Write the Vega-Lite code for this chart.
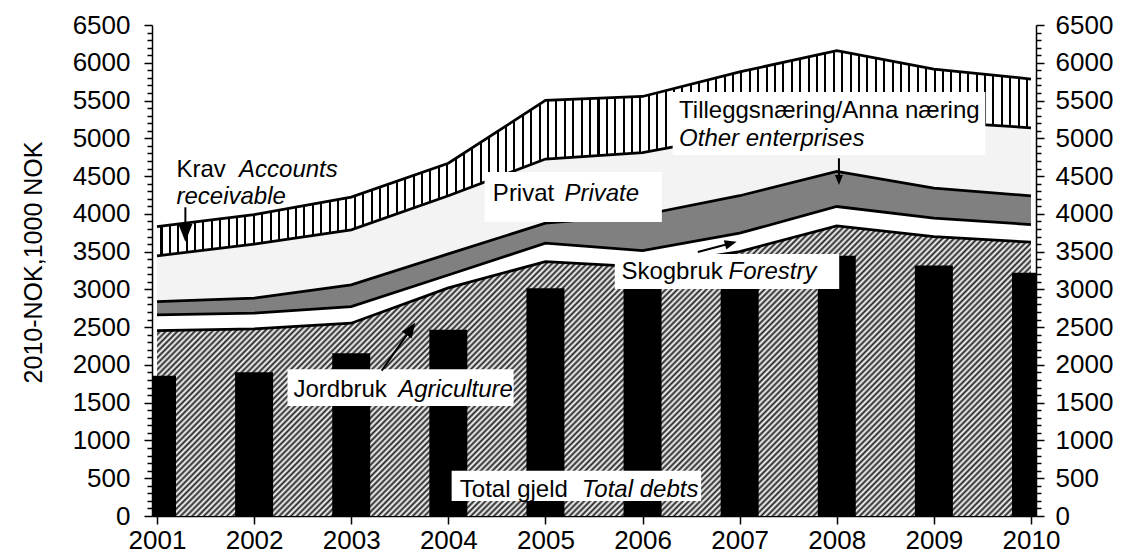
{
"$schema":"https://vega.github.io/schema/vega-lite/v6.json",
"width":884,"height":491,
"autosize":{"type":"none"},
"padding":{"left":152,"top":25,"right":87,"bottom":44},
"background":"white",
"config":{"view":{"stroke":null},"axis":{"grid":false,"zindex":1,"domainColor":"black","domainWidth":1.5,"tickColor":"black","tickWidth":1.5,"labelColor":"black","labelFont":"Liberation Sans","labelFontSize":26,"titleFont":"Liberation Sans","titleColor":"black","titleFontWeight":"normal","labelOverlap":false,"labelFlush":false}},
"datasets":{"assets":[
{"year":2001,"Agriculture":2455,"Forestry":207,"Other":177,"Private":605,"Receivable":388,"debts":1858},
{"year":2002,"Agriculture":2477,"Forestry":208,"Other":198,"Private":717,"Receivable":390,"debts":1903},
{"year":2003,"Agriculture":2552,"Forestry":220,"Other":288,"Private":728,"Receivable":433,"debts":2155},
{"year":2004,"Agriculture":3020,"Forestry":170,"Other":280,"Private":770,"Receivable":430,"debts":2464},
{"year":2005,"Agriculture":3368,"Forestry":244,"Other":265,"Private":848,"Receivable":776,"debts":3016},
{"year":2006,"Agriculture":3298,"Forestry":216,"Other":471,"Private":827,"Receivable":742,"debts":3020},
{"year":2007,"Agriculture":3500,"Forestry":244,"Other":496,"Private":810,"Receivable":830,"debts":3040},
{"year":2008,"Agriculture":3841,"Forestry":256,"Other":464,"Private":739,"Receivable":859,"debts":3444},
{"year":2009,"Agriculture":3700,"Forestry":243,"Other":397,"Private":880,"Receivable":697,"debts":3315},
{"year":2010,"Agriculture":3625,"Forestry":233,"Other":380,"Private":901,"Receivable":646,"debts":3220}
]},
"resolve":{"axis":{"x":"independent","y":"independent"}},
"layer":[
  {"data":{"name":"assets"},
   "transform":[{"fold":["Agriculture","Forestry","Other","Private","Receivable"]},{"stack":"value","groupby":["year"],"sort":[{"field":"key","order":"ascending"}],"as":["lo","hi"]},{"filter":"datum.key === 'Agriculture'"}],
   "mark":{"type":"area","opacity":1,"fill":{"gradient":"linear","x1":0,"y1":0,"x2":1.199,"y2":0.3935,"stops":[
{"offset":0,"color":"#fff"},{"offset":0.0025,"color":"#222"},{"offset":0.005,"color":"#fff"},{"offset":0.0075,"color":"#222"},
{"offset":0.01,"color":"#fff"},{"offset":0.0125,"color":"#222"},{"offset":0.015,"color":"#fff"},{"offset":0.0175,"color":"#222"},
{"offset":0.02,"color":"#fff"},{"offset":0.0225,"color":"#222"},{"offset":0.025,"color":"#fff"},{"offset":0.0275,"color":"#222"},
{"offset":0.03,"color":"#fff"},{"offset":0.0325,"color":"#222"},{"offset":0.035,"color":"#fff"},{"offset":0.0375,"color":"#222"},
{"offset":0.04,"color":"#fff"},{"offset":0.0425,"color":"#222"},{"offset":0.045,"color":"#fff"},{"offset":0.0475,"color":"#222"},
{"offset":0.05,"color":"#fff"},{"offset":0.0525,"color":"#222"},{"offset":0.055,"color":"#fff"},{"offset":0.0575,"color":"#222"},
{"offset":0.06,"color":"#fff"},{"offset":0.0625,"color":"#222"},{"offset":0.065,"color":"#fff"},{"offset":0.0675,"color":"#222"},
{"offset":0.07,"color":"#fff"},{"offset":0.0725,"color":"#222"},{"offset":0.075,"color":"#fff"},{"offset":0.0775,"color":"#222"},
{"offset":0.08,"color":"#fff"},{"offset":0.0825,"color":"#222"},{"offset":0.085,"color":"#fff"},{"offset":0.0875,"color":"#222"},
{"offset":0.09,"color":"#fff"},{"offset":0.0925,"color":"#222"},{"offset":0.095,"color":"#fff"},{"offset":0.0975,"color":"#222"},
{"offset":0.1,"color":"#fff"},{"offset":0.1025,"color":"#222"},{"offset":0.105,"color":"#fff"},{"offset":0.1075,"color":"#222"},
{"offset":0.11,"color":"#fff"},{"offset":0.1125,"color":"#222"},{"offset":0.115,"color":"#fff"},{"offset":0.1175,"color":"#222"},
{"offset":0.12,"color":"#fff"},{"offset":0.1225,"color":"#222"},{"offset":0.125,"color":"#fff"},{"offset":0.1275,"color":"#222"},
{"offset":0.13,"color":"#fff"},{"offset":0.1325,"color":"#222"},{"offset":0.135,"color":"#fff"},{"offset":0.1375,"color":"#222"},
{"offset":0.14,"color":"#fff"},{"offset":0.1425,"color":"#222"},{"offset":0.145,"color":"#fff"},{"offset":0.1475,"color":"#222"},
{"offset":0.15,"color":"#fff"},{"offset":0.1525,"color":"#222"},{"offset":0.155,"color":"#fff"},{"offset":0.1575,"color":"#222"},
{"offset":0.16,"color":"#fff"},{"offset":0.1625,"color":"#222"},{"offset":0.165,"color":"#fff"},{"offset":0.1675,"color":"#222"},
{"offset":0.17,"color":"#fff"},{"offset":0.1725,"color":"#222"},{"offset":0.175,"color":"#fff"},{"offset":0.1775,"color":"#222"},
{"offset":0.18,"color":"#fff"},{"offset":0.1825,"color":"#222"},{"offset":0.185,"color":"#fff"},{"offset":0.1875,"color":"#222"},
{"offset":0.19,"color":"#fff"},{"offset":0.1925,"color":"#222"},{"offset":0.195,"color":"#fff"},{"offset":0.1975,"color":"#222"},
{"offset":0.2,"color":"#fff"},{"offset":0.2025,"color":"#222"},{"offset":0.205,"color":"#fff"},{"offset":0.2075,"color":"#222"},
{"offset":0.21,"color":"#fff"},{"offset":0.2125,"color":"#222"},{"offset":0.215,"color":"#fff"},{"offset":0.2175,"color":"#222"},
{"offset":0.22,"color":"#fff"},{"offset":0.2225,"color":"#222"},{"offset":0.225,"color":"#fff"},{"offset":0.2275,"color":"#222"},
{"offset":0.23,"color":"#fff"},{"offset":0.2325,"color":"#222"},{"offset":0.235,"color":"#fff"},{"offset":0.2375,"color":"#222"},
{"offset":0.24,"color":"#fff"},{"offset":0.2425,"color":"#222"},{"offset":0.245,"color":"#fff"},{"offset":0.2475,"color":"#222"},
{"offset":0.25,"color":"#fff"},{"offset":0.2525,"color":"#222"},{"offset":0.255,"color":"#fff"},{"offset":0.2575,"color":"#222"},
{"offset":0.26,"color":"#fff"},{"offset":0.2625,"color":"#222"},{"offset":0.265,"color":"#fff"},{"offset":0.2675,"color":"#222"},
{"offset":0.27,"color":"#fff"},{"offset":0.2725,"color":"#222"},{"offset":0.275,"color":"#fff"},{"offset":0.2775,"color":"#222"},
{"offset":0.28,"color":"#fff"},{"offset":0.2825,"color":"#222"},{"offset":0.285,"color":"#fff"},{"offset":0.2875,"color":"#222"},
{"offset":0.29,"color":"#fff"},{"offset":0.2925,"color":"#222"},{"offset":0.295,"color":"#fff"},{"offset":0.2975,"color":"#222"},
{"offset":0.3,"color":"#fff"},{"offset":0.3025,"color":"#222"},{"offset":0.305,"color":"#fff"},{"offset":0.3075,"color":"#222"},
{"offset":0.31,"color":"#fff"},{"offset":0.3125,"color":"#222"},{"offset":0.315,"color":"#fff"},{"offset":0.3175,"color":"#222"},
{"offset":0.32,"color":"#fff"},{"offset":0.3225,"color":"#222"},{"offset":0.325,"color":"#fff"},{"offset":0.3275,"color":"#222"},
{"offset":0.33,"color":"#fff"},{"offset":0.3325,"color":"#222"},{"offset":0.335,"color":"#fff"},{"offset":0.3375,"color":"#222"},
{"offset":0.34,"color":"#fff"},{"offset":0.3425,"color":"#222"},{"offset":0.345,"color":"#fff"},{"offset":0.3475,"color":"#222"},
{"offset":0.35,"color":"#fff"},{"offset":0.3525,"color":"#222"},{"offset":0.355,"color":"#fff"},{"offset":0.3575,"color":"#222"},
{"offset":0.36,"color":"#fff"},{"offset":0.3625,"color":"#222"},{"offset":0.365,"color":"#fff"},{"offset":0.3675,"color":"#222"},
{"offset":0.37,"color":"#fff"},{"offset":0.3725,"color":"#222"},{"offset":0.375,"color":"#fff"},{"offset":0.3775,"color":"#222"},
{"offset":0.38,"color":"#fff"},{"offset":0.3825,"color":"#222"},{"offset":0.385,"color":"#fff"},{"offset":0.3875,"color":"#222"},
{"offset":0.39,"color":"#fff"},{"offset":0.3925,"color":"#222"},{"offset":0.395,"color":"#fff"},{"offset":0.3975,"color":"#222"},
{"offset":0.4,"color":"#fff"},{"offset":0.4025,"color":"#222"},{"offset":0.405,"color":"#fff"},{"offset":0.4075,"color":"#222"},
{"offset":0.41,"color":"#fff"},{"offset":0.4125,"color":"#222"},{"offset":0.415,"color":"#fff"},{"offset":0.4175,"color":"#222"},
{"offset":0.42,"color":"#fff"},{"offset":0.4225,"color":"#222"},{"offset":0.425,"color":"#fff"},{"offset":0.4275,"color":"#222"},
{"offset":0.43,"color":"#fff"},{"offset":0.4325,"color":"#222"},{"offset":0.435,"color":"#fff"},{"offset":0.4375,"color":"#222"},
{"offset":0.44,"color":"#fff"},{"offset":0.4425,"color":"#222"},{"offset":0.445,"color":"#fff"},{"offset":0.4475,"color":"#222"},
{"offset":0.45,"color":"#fff"},{"offset":0.4525,"color":"#222"},{"offset":0.455,"color":"#fff"},{"offset":0.4575,"color":"#222"},
{"offset":0.46,"color":"#fff"},{"offset":0.4625,"color":"#222"},{"offset":0.465,"color":"#fff"},{"offset":0.4675,"color":"#222"},
{"offset":0.47,"color":"#fff"},{"offset":0.4725,"color":"#222"},{"offset":0.475,"color":"#fff"},{"offset":0.4775,"color":"#222"},
{"offset":0.48,"color":"#fff"},{"offset":0.4825,"color":"#222"},{"offset":0.485,"color":"#fff"},{"offset":0.4875,"color":"#222"},
{"offset":0.49,"color":"#fff"},{"offset":0.4925,"color":"#222"},{"offset":0.495,"color":"#fff"},{"offset":0.4975,"color":"#222"},
{"offset":0.5,"color":"#fff"},{"offset":0.5025,"color":"#222"},{"offset":0.505,"color":"#fff"},{"offset":0.5075,"color":"#222"},
{"offset":0.51,"color":"#fff"},{"offset":0.5125,"color":"#222"},{"offset":0.515,"color":"#fff"},{"offset":0.5175,"color":"#222"},
{"offset":0.52,"color":"#fff"},{"offset":0.5225,"color":"#222"},{"offset":0.525,"color":"#fff"},{"offset":0.5275,"color":"#222"},
{"offset":0.53,"color":"#fff"},{"offset":0.5325,"color":"#222"},{"offset":0.535,"color":"#fff"},{"offset":0.5375,"color":"#222"},
{"offset":0.54,"color":"#fff"},{"offset":0.5425,"color":"#222"},{"offset":0.545,"color":"#fff"},{"offset":0.5475,"color":"#222"},
{"offset":0.55,"color":"#fff"},{"offset":0.5525,"color":"#222"},{"offset":0.555,"color":"#fff"},{"offset":0.5575,"color":"#222"},
{"offset":0.56,"color":"#fff"},{"offset":0.5625,"color":"#222"},{"offset":0.565,"color":"#fff"},{"offset":0.5675,"color":"#222"},
{"offset":0.57,"color":"#fff"},{"offset":0.5725,"color":"#222"},{"offset":0.575,"color":"#fff"},{"offset":0.5775,"color":"#222"},
{"offset":0.58,"color":"#fff"},{"offset":0.5825,"color":"#222"},{"offset":0.585,"color":"#fff"},{"offset":0.5875,"color":"#222"},
{"offset":0.59,"color":"#fff"},{"offset":0.5925,"color":"#222"},{"offset":0.595,"color":"#fff"},{"offset":0.5975,"color":"#222"},
{"offset":0.6,"color":"#fff"},{"offset":0.6025,"color":"#222"},{"offset":0.605,"color":"#fff"},{"offset":0.6075,"color":"#222"},
{"offset":0.61,"color":"#fff"},{"offset":0.6125,"color":"#222"},{"offset":0.615,"color":"#fff"},{"offset":0.6175,"color":"#222"},
{"offset":0.62,"color":"#fff"},{"offset":0.6225,"color":"#222"},{"offset":0.625,"color":"#fff"},{"offset":0.6275,"color":"#222"},
{"offset":0.63,"color":"#fff"},{"offset":0.6325,"color":"#222"},{"offset":0.635,"color":"#fff"},{"offset":0.6375,"color":"#222"},
{"offset":0.64,"color":"#fff"},{"offset":0.6425,"color":"#222"},{"offset":0.645,"color":"#fff"},{"offset":0.6475,"color":"#222"},
{"offset":0.65,"color":"#fff"},{"offset":0.6525,"color":"#222"},{"offset":0.655,"color":"#fff"},{"offset":0.6575,"color":"#222"},
{"offset":0.66,"color":"#fff"},{"offset":0.6625,"color":"#222"},{"offset":0.665,"color":"#fff"},{"offset":0.6675,"color":"#222"},
{"offset":0.67,"color":"#fff"},{"offset":0.6725,"color":"#222"},{"offset":0.675,"color":"#fff"},{"offset":0.6775,"color":"#222"},
{"offset":0.68,"color":"#fff"},{"offset":0.6825,"color":"#222"},{"offset":0.685,"color":"#fff"},{"offset":0.6875,"color":"#222"},
{"offset":0.69,"color":"#fff"},{"offset":0.6925,"color":"#222"},{"offset":0.695,"color":"#fff"},{"offset":0.6975,"color":"#222"},
{"offset":0.7,"color":"#fff"},{"offset":0.7025,"color":"#222"},{"offset":0.705,"color":"#fff"},{"offset":0.7075,"color":"#222"},
{"offset":0.71,"color":"#fff"},{"offset":0.7125,"color":"#222"},{"offset":0.715,"color":"#fff"},{"offset":0.7175,"color":"#222"},
{"offset":0.72,"color":"#fff"},{"offset":0.7225,"color":"#222"},{"offset":0.725,"color":"#fff"},{"offset":0.7275,"color":"#222"},
{"offset":0.73,"color":"#fff"},{"offset":0.7325,"color":"#222"},{"offset":0.735,"color":"#fff"},{"offset":0.7375,"color":"#222"},
{"offset":0.74,"color":"#fff"},{"offset":0.7425,"color":"#222"},{"offset":0.745,"color":"#fff"},{"offset":0.7475,"color":"#222"},
{"offset":0.75,"color":"#fff"},{"offset":0.7525,"color":"#222"},{"offset":0.755,"color":"#fff"},{"offset":0.7575,"color":"#222"},
{"offset":0.76,"color":"#fff"},{"offset":0.7625,"color":"#222"},{"offset":0.765,"color":"#fff"},{"offset":0.7675,"color":"#222"},
{"offset":0.77,"color":"#fff"},{"offset":0.7725,"color":"#222"},{"offset":0.775,"color":"#fff"},{"offset":0.7775,"color":"#222"},
{"offset":0.78,"color":"#fff"},{"offset":0.7825,"color":"#222"},{"offset":0.785,"color":"#fff"},{"offset":0.7875,"color":"#222"},
{"offset":0.79,"color":"#fff"},{"offset":0.7925,"color":"#222"},{"offset":0.795,"color":"#fff"},{"offset":0.7975,"color":"#222"},
{"offset":0.8,"color":"#fff"},{"offset":0.8025,"color":"#222"},{"offset":0.805,"color":"#fff"},{"offset":0.8075,"color":"#222"},
{"offset":0.81,"color":"#fff"},{"offset":0.8125,"color":"#222"},{"offset":0.815,"color":"#fff"},{"offset":0.8175,"color":"#222"},
{"offset":0.82,"color":"#fff"},{"offset":0.8225,"color":"#222"},{"offset":0.825,"color":"#fff"},{"offset":0.8275,"color":"#222"},
{"offset":0.83,"color":"#fff"},{"offset":0.8325,"color":"#222"},{"offset":0.835,"color":"#fff"},{"offset":0.8375,"color":"#222"},
{"offset":0.84,"color":"#fff"},{"offset":0.8425,"color":"#222"},{"offset":0.845,"color":"#fff"},{"offset":0.8475,"color":"#222"},
{"offset":0.85,"color":"#fff"},{"offset":0.8525,"color":"#222"},{"offset":0.855,"color":"#fff"},{"offset":0.8575,"color":"#222"},
{"offset":0.86,"color":"#fff"},{"offset":0.8625,"color":"#222"},{"offset":0.865,"color":"#fff"},{"offset":0.8675,"color":"#222"},
{"offset":0.87,"color":"#fff"},{"offset":0.8725,"color":"#222"},{"offset":0.875,"color":"#fff"},{"offset":0.8775,"color":"#222"},
{"offset":0.88,"color":"#fff"},{"offset":0.8825,"color":"#222"},{"offset":0.885,"color":"#fff"},{"offset":0.8875,"color":"#222"},
{"offset":0.89,"color":"#fff"},{"offset":0.8925,"color":"#222"},{"offset":0.895,"color":"#fff"},{"offset":0.8975,"color":"#222"},
{"offset":0.9,"color":"#fff"},{"offset":0.9025,"color":"#222"},{"offset":0.905,"color":"#fff"},{"offset":0.9075,"color":"#222"},
{"offset":0.91,"color":"#fff"},{"offset":0.9125,"color":"#222"},{"offset":0.915,"color":"#fff"},{"offset":0.9175,"color":"#222"},
{"offset":0.92,"color":"#fff"},{"offset":0.9225,"color":"#222"},{"offset":0.925,"color":"#fff"},{"offset":0.9275,"color":"#222"},
{"offset":0.93,"color":"#fff"},{"offset":0.9325,"color":"#222"},{"offset":0.935,"color":"#fff"},{"offset":0.9375,"color":"#222"},
{"offset":0.94,"color":"#fff"},{"offset":0.9425,"color":"#222"},{"offset":0.945,"color":"#fff"},{"offset":0.9475,"color":"#222"},
{"offset":0.95,"color":"#fff"},{"offset":0.9525,"color":"#222"},{"offset":0.955,"color":"#fff"},{"offset":0.9575,"color":"#222"},
{"offset":0.96,"color":"#fff"},{"offset":0.9625,"color":"#222"},{"offset":0.965,"color":"#fff"},{"offset":0.9675,"color":"#222"},
{"offset":0.97,"color":"#fff"},{"offset":0.9725,"color":"#222"},{"offset":0.975,"color":"#fff"},{"offset":0.9775,"color":"#222"},
{"offset":0.98,"color":"#fff"},{"offset":0.9825,"color":"#222"},{"offset":0.985,"color":"#fff"},{"offset":0.9875,"color":"#222"},
{"offset":0.99,"color":"#fff"},{"offset":0.9925,"color":"#222"},{"offset":0.995,"color":"#fff"},{"offset":0.9975,"color":"#222"},
{"offset":1,"color":"#fff"}]}},
   "encoding":{
    "x":{"field":"year","type":"quantitative","scale":{"domain":[2001,2010],"nice":false,"zero":false},"axis":{"orient":"bottom","values":[2001,2002,2003,2004,2005,2006,2007,2008,2009,2010],"format":"d","tickSize":8,"labelPadding":3,"title":null}},
    "y":{"field":"hi","type":"quantitative","scale":{"domain":[0,6500],"nice":false},"axis":{"orient":"left","values":[0,100,200,300,400,500,600,700,800,900,1000,1100,1200,1300,1400,1500,1600,1700,1800,1900,2000,2100,2200,2300,2400,2500,2600,2700,2800,2900,3000,3100,3200,3300,3400,3500,3600,3700,3800,3900,4000,4100,4200,4300,4400,4500,4600,4700,4800,4900,5000,5100,5200,5300,5400,5500,5600,5700,5800,5900,6000,6100,6200,6300,6400,6500],"format":"d","labelExpr":"datum.value % 500 === 0 ? datum.label : ''","tickSize":{"condition":{"test":"datum.value % 500 === 0","value":8},"value":5},"labelPadding":14,"title":"2010-NOK,1000 NOK","titleFontSize":25,"titleAngle":-90,"titleX":-111,"titleY":237,"titleAlign":"center","titleBaseline":"alphabetic"}},
    "y2":{"field":"lo"}}},
  {"data":{"name":"assets"},
   "transform":[{"fold":["Agriculture","Forestry","Other","Private","Receivable"]},{"stack":"value","groupby":["year"],"sort":[{"field":"key","order":"ascending"}],"as":["lo","hi"]},{"filter":"datum.key === 'Forestry'"}],
   "mark":{"type":"area","opacity":1,"fill":"#ffffff"},
   "encoding":{"x":{"field":"year","type":"quantitative","scale":{"domain":[2001,2010],"nice":false,"zero":false},"axis":null},"y":{"field":"hi","type":"quantitative","scale":{"domain":[0,6500],"nice":false},"axis":null},"y2":{"field":"lo"}}},
  {"data":{"name":"assets"},
   "transform":[{"fold":["Agriculture","Forestry","Other","Private","Receivable"]},{"stack":"value","groupby":["year"],"sort":[{"field":"key","order":"ascending"}],"as":["lo","hi"]},{"filter":"datum.key === 'Other'"}],
   "mark":{"type":"area","opacity":1,"fill":"#808080"},
   "encoding":{"x":{"field":"year","type":"quantitative","scale":{"domain":[2001,2010],"nice":false,"zero":false},"axis":null},"y":{"field":"hi","type":"quantitative","scale":{"domain":[0,6500],"nice":false},"axis":null},"y2":{"field":"lo"}}},
  {"data":{"name":"assets"},
   "transform":[{"fold":["Agriculture","Forestry","Other","Private","Receivable"]},{"stack":"value","groupby":["year"],"sort":[{"field":"key","order":"ascending"}],"as":["lo","hi"]},{"filter":"datum.key === 'Private'"}],
   "mark":{"type":"area","opacity":1,"fill":"#f3f3f3"},
   "encoding":{"x":{"field":"year","type":"quantitative","scale":{"domain":[2001,2010],"nice":false,"zero":false},"axis":null},"y":{"field":"hi","type":"quantitative","scale":{"domain":[0,6500],"nice":false},"axis":null},"y2":{"field":"lo"}}},
  {"data":{"name":"assets"},
   "transform":[{"fold":["Agriculture","Forestry","Other","Private","Receivable"]},{"stack":"value","groupby":["year"],"sort":[{"field":"key","order":"ascending"}],"as":["lo","hi"]},{"filter":"datum.key === 'Receivable'"}],
   "mark":{"type":"area","opacity":1,"fill":{"gradient":"linear","x1":0,"y1":0,"x2":1,"y2":0,"stops":[
{"offset":0,"color":"#fff"},
{"offset":0.0039,"color":"#fff"},{"offset":0.0039,"color":"#000"},{"offset":0.0063,"color":"#000"},{"offset":0.0063,"color":"#fff"},
{"offset":0.0136,"color":"#fff"},{"offset":0.0136,"color":"#000"},{"offset":0.0159,"color":"#000"},{"offset":0.0159,"color":"#fff"},
{"offset":0.0232,"color":"#fff"},{"offset":0.0232,"color":"#000"},{"offset":0.0255,"color":"#000"},{"offset":0.0255,"color":"#fff"},
{"offset":0.0328,"color":"#fff"},{"offset":0.0328,"color":"#000"},{"offset":0.0351,"color":"#000"},{"offset":0.0351,"color":"#fff"},
{"offset":0.0424,"color":"#fff"},{"offset":0.0424,"color":"#000"},{"offset":0.0447,"color":"#000"},{"offset":0.0447,"color":"#fff"},
{"offset":0.052,"color":"#fff"},{"offset":0.052,"color":"#000"},{"offset":0.0543,"color":"#000"},{"offset":0.0543,"color":"#fff"},
{"offset":0.0616,"color":"#fff"},{"offset":0.0616,"color":"#000"},{"offset":0.0639,"color":"#000"},{"offset":0.0639,"color":"#fff"},
{"offset":0.0713,"color":"#fff"},{"offset":0.0713,"color":"#000"},{"offset":0.0736,"color":"#000"},{"offset":0.0736,"color":"#fff"},
{"offset":0.0809,"color":"#fff"},{"offset":0.0809,"color":"#000"},{"offset":0.0832,"color":"#000"},{"offset":0.0832,"color":"#fff"},
{"offset":0.0905,"color":"#fff"},{"offset":0.0905,"color":"#000"},{"offset":0.0928,"color":"#000"},{"offset":0.0928,"color":"#fff"},
{"offset":0.1001,"color":"#fff"},{"offset":0.1001,"color":"#000"},{"offset":0.1024,"color":"#000"},{"offset":0.1024,"color":"#fff"},
{"offset":0.1097,"color":"#fff"},{"offset":0.1097,"color":"#000"},{"offset":0.112,"color":"#000"},{"offset":0.112,"color":"#fff"},
{"offset":0.1193,"color":"#fff"},{"offset":0.1193,"color":"#000"},{"offset":0.1216,"color":"#000"},{"offset":0.1216,"color":"#fff"},
{"offset":0.1289,"color":"#fff"},{"offset":0.1289,"color":"#000"},{"offset":0.1313,"color":"#000"},{"offset":0.1313,"color":"#fff"},
{"offset":0.1386,"color":"#fff"},{"offset":0.1386,"color":"#000"},{"offset":0.1409,"color":"#000"},{"offset":0.1409,"color":"#fff"},
{"offset":0.1482,"color":"#fff"},{"offset":0.1482,"color":"#000"},{"offset":0.1505,"color":"#000"},{"offset":0.1505,"color":"#fff"},
{"offset":0.1578,"color":"#fff"},{"offset":0.1578,"color":"#000"},{"offset":0.1601,"color":"#000"},{"offset":0.1601,"color":"#fff"},
{"offset":0.1674,"color":"#fff"},{"offset":0.1674,"color":"#000"},{"offset":0.1697,"color":"#000"},{"offset":0.1697,"color":"#fff"},
{"offset":0.177,"color":"#fff"},{"offset":0.177,"color":"#000"},{"offset":0.1793,"color":"#000"},{"offset":0.1793,"color":"#fff"},
{"offset":0.1866,"color":"#fff"},{"offset":0.1866,"color":"#000"},{"offset":0.1889,"color":"#000"},{"offset":0.1889,"color":"#fff"},
{"offset":0.1963,"color":"#fff"},{"offset":0.1963,"color":"#000"},{"offset":0.1986,"color":"#000"},{"offset":0.1986,"color":"#fff"},
{"offset":0.2059,"color":"#fff"},{"offset":0.2059,"color":"#000"},{"offset":0.2082,"color":"#000"},{"offset":0.2082,"color":"#fff"},
{"offset":0.2155,"color":"#fff"},{"offset":0.2155,"color":"#000"},{"offset":0.2178,"color":"#000"},{"offset":0.2178,"color":"#fff"},
{"offset":0.2251,"color":"#fff"},{"offset":0.2251,"color":"#000"},{"offset":0.2274,"color":"#000"},{"offset":0.2274,"color":"#fff"},
{"offset":0.2347,"color":"#fff"},{"offset":0.2347,"color":"#000"},{"offset":0.237,"color":"#000"},{"offset":0.237,"color":"#fff"},
{"offset":0.2443,"color":"#fff"},{"offset":0.2443,"color":"#000"},{"offset":0.2466,"color":"#000"},{"offset":0.2466,"color":"#fff"},
{"offset":0.2539,"color":"#fff"},{"offset":0.2539,"color":"#000"},{"offset":0.2563,"color":"#000"},{"offset":0.2563,"color":"#fff"},
{"offset":0.2636,"color":"#fff"},{"offset":0.2636,"color":"#000"},{"offset":0.2659,"color":"#000"},{"offset":0.2659,"color":"#fff"},
{"offset":0.2732,"color":"#fff"},{"offset":0.2732,"color":"#000"},{"offset":0.2755,"color":"#000"},{"offset":0.2755,"color":"#fff"},
{"offset":0.2828,"color":"#fff"},{"offset":0.2828,"color":"#000"},{"offset":0.2851,"color":"#000"},{"offset":0.2851,"color":"#fff"},
{"offset":0.2924,"color":"#fff"},{"offset":0.2924,"color":"#000"},{"offset":0.2947,"color":"#000"},{"offset":0.2947,"color":"#fff"},
{"offset":0.302,"color":"#fff"},{"offset":0.302,"color":"#000"},{"offset":0.3043,"color":"#000"},{"offset":0.3043,"color":"#fff"},
{"offset":0.3116,"color":"#fff"},{"offset":0.3116,"color":"#000"},{"offset":0.3139,"color":"#000"},{"offset":0.3139,"color":"#fff"},
{"offset":0.3213,"color":"#fff"},{"offset":0.3213,"color":"#000"},{"offset":0.3236,"color":"#000"},{"offset":0.3236,"color":"#fff"},
{"offset":0.3309,"color":"#fff"},{"offset":0.3309,"color":"#000"},{"offset":0.3332,"color":"#000"},{"offset":0.3332,"color":"#fff"},
{"offset":0.3405,"color":"#fff"},{"offset":0.3405,"color":"#000"},{"offset":0.3428,"color":"#000"},{"offset":0.3428,"color":"#fff"},
{"offset":0.3501,"color":"#fff"},{"offset":0.3501,"color":"#000"},{"offset":0.3524,"color":"#000"},{"offset":0.3524,"color":"#fff"},
{"offset":0.3597,"color":"#fff"},{"offset":0.3597,"color":"#000"},{"offset":0.362,"color":"#000"},{"offset":0.362,"color":"#fff"},
{"offset":0.3693,"color":"#fff"},{"offset":0.3693,"color":"#000"},{"offset":0.3716,"color":"#000"},{"offset":0.3716,"color":"#fff"},
{"offset":0.3789,"color":"#fff"},{"offset":0.3789,"color":"#000"},{"offset":0.3813,"color":"#000"},{"offset":0.3813,"color":"#fff"},
{"offset":0.3886,"color":"#fff"},{"offset":0.3886,"color":"#000"},{"offset":0.3909,"color":"#000"},{"offset":0.3909,"color":"#fff"},
{"offset":0.3982,"color":"#fff"},{"offset":0.3982,"color":"#000"},{"offset":0.4005,"color":"#000"},{"offset":0.4005,"color":"#fff"},
{"offset":0.4078,"color":"#fff"},{"offset":0.4078,"color":"#000"},{"offset":0.4101,"color":"#000"},{"offset":0.4101,"color":"#fff"},
{"offset":0.4174,"color":"#fff"},{"offset":0.4174,"color":"#000"},{"offset":0.4197,"color":"#000"},{"offset":0.4197,"color":"#fff"},
{"offset":0.427,"color":"#fff"},{"offset":0.427,"color":"#000"},{"offset":0.4293,"color":"#000"},{"offset":0.4293,"color":"#fff"},
{"offset":0.4366,"color":"#fff"},{"offset":0.4366,"color":"#000"},{"offset":0.4389,"color":"#000"},{"offset":0.4389,"color":"#fff"},
{"offset":0.4463,"color":"#fff"},{"offset":0.4463,"color":"#000"},{"offset":0.4486,"color":"#000"},{"offset":0.4486,"color":"#fff"},
{"offset":0.4559,"color":"#fff"},{"offset":0.4559,"color":"#000"},{"offset":0.4582,"color":"#000"},{"offset":0.4582,"color":"#fff"},
{"offset":0.4655,"color":"#fff"},{"offset":0.4655,"color":"#000"},{"offset":0.4678,"color":"#000"},{"offset":0.4678,"color":"#fff"},
{"offset":0.4751,"color":"#fff"},{"offset":0.4751,"color":"#000"},{"offset":0.4774,"color":"#000"},{"offset":0.4774,"color":"#fff"},
{"offset":0.4847,"color":"#fff"},{"offset":0.4847,"color":"#000"},{"offset":0.487,"color":"#000"},{"offset":0.487,"color":"#fff"},
{"offset":0.4943,"color":"#fff"},{"offset":0.4943,"color":"#000"},{"offset":0.4966,"color":"#000"},{"offset":0.4966,"color":"#fff"},
{"offset":0.5039,"color":"#fff"},{"offset":0.5039,"color":"#000"},{"offset":0.5063,"color":"#000"},{"offset":0.5063,"color":"#fff"},
{"offset":0.5136,"color":"#fff"},{"offset":0.5136,"color":"#000"},{"offset":0.5159,"color":"#000"},{"offset":0.5159,"color":"#fff"},
{"offset":0.5232,"color":"#fff"},{"offset":0.5232,"color":"#000"},{"offset":0.5255,"color":"#000"},{"offset":0.5255,"color":"#fff"},
{"offset":0.5328,"color":"#fff"},{"offset":0.5328,"color":"#000"},{"offset":0.5351,"color":"#000"},{"offset":0.5351,"color":"#fff"},
{"offset":0.5424,"color":"#fff"},{"offset":0.5424,"color":"#000"},{"offset":0.5447,"color":"#000"},{"offset":0.5447,"color":"#fff"},
{"offset":0.552,"color":"#fff"},{"offset":0.552,"color":"#000"},{"offset":0.5543,"color":"#000"},{"offset":0.5543,"color":"#fff"},
{"offset":0.5616,"color":"#fff"},{"offset":0.5616,"color":"#000"},{"offset":0.5639,"color":"#000"},{"offset":0.5639,"color":"#fff"},
{"offset":0.5713,"color":"#fff"},{"offset":0.5713,"color":"#000"},{"offset":0.5736,"color":"#000"},{"offset":0.5736,"color":"#fff"},
{"offset":0.5809,"color":"#fff"},{"offset":0.5809,"color":"#000"},{"offset":0.5832,"color":"#000"},{"offset":0.5832,"color":"#fff"},
{"offset":0.5905,"color":"#fff"},{"offset":0.5905,"color":"#000"},{"offset":0.5928,"color":"#000"},{"offset":0.5928,"color":"#fff"},
{"offset":0.6001,"color":"#fff"},{"offset":0.6001,"color":"#000"},{"offset":0.6024,"color":"#000"},{"offset":0.6024,"color":"#fff"},
{"offset":0.6097,"color":"#fff"},{"offset":0.6097,"color":"#000"},{"offset":0.612,"color":"#000"},{"offset":0.612,"color":"#fff"},
{"offset":0.6193,"color":"#fff"},{"offset":0.6193,"color":"#000"},{"offset":0.6216,"color":"#000"},{"offset":0.6216,"color":"#fff"},
{"offset":0.6289,"color":"#fff"},{"offset":0.6289,"color":"#000"},{"offset":0.6313,"color":"#000"},{"offset":0.6313,"color":"#fff"},
{"offset":0.6386,"color":"#fff"},{"offset":0.6386,"color":"#000"},{"offset":0.6409,"color":"#000"},{"offset":0.6409,"color":"#fff"},
{"offset":0.6482,"color":"#fff"},{"offset":0.6482,"color":"#000"},{"offset":0.6505,"color":"#000"},{"offset":0.6505,"color":"#fff"},
{"offset":0.6578,"color":"#fff"},{"offset":0.6578,"color":"#000"},{"offset":0.6601,"color":"#000"},{"offset":0.6601,"color":"#fff"},
{"offset":0.6674,"color":"#fff"},{"offset":0.6674,"color":"#000"},{"offset":0.6697,"color":"#000"},{"offset":0.6697,"color":"#fff"},
{"offset":0.677,"color":"#fff"},{"offset":0.677,"color":"#000"},{"offset":0.6793,"color":"#000"},{"offset":0.6793,"color":"#fff"},
{"offset":0.6866,"color":"#fff"},{"offset":0.6866,"color":"#000"},{"offset":0.6889,"color":"#000"},{"offset":0.6889,"color":"#fff"},
{"offset":0.6963,"color":"#fff"},{"offset":0.6963,"color":"#000"},{"offset":0.6986,"color":"#000"},{"offset":0.6986,"color":"#fff"},
{"offset":0.7059,"color":"#fff"},{"offset":0.7059,"color":"#000"},{"offset":0.7082,"color":"#000"},{"offset":0.7082,"color":"#fff"},
{"offset":0.7155,"color":"#fff"},{"offset":0.7155,"color":"#000"},{"offset":0.7178,"color":"#000"},{"offset":0.7178,"color":"#fff"},
{"offset":0.7251,"color":"#fff"},{"offset":0.7251,"color":"#000"},{"offset":0.7274,"color":"#000"},{"offset":0.7274,"color":"#fff"},
{"offset":0.7347,"color":"#fff"},{"offset":0.7347,"color":"#000"},{"offset":0.737,"color":"#000"},{"offset":0.737,"color":"#fff"},
{"offset":0.7443,"color":"#fff"},{"offset":0.7443,"color":"#000"},{"offset":0.7466,"color":"#000"},{"offset":0.7466,"color":"#fff"},
{"offset":0.7539,"color":"#fff"},{"offset":0.7539,"color":"#000"},{"offset":0.7563,"color":"#000"},{"offset":0.7563,"color":"#fff"},
{"offset":0.7636,"color":"#fff"},{"offset":0.7636,"color":"#000"},{"offset":0.7659,"color":"#000"},{"offset":0.7659,"color":"#fff"},
{"offset":0.7732,"color":"#fff"},{"offset":0.7732,"color":"#000"},{"offset":0.7755,"color":"#000"},{"offset":0.7755,"color":"#fff"},
{"offset":0.7828,"color":"#fff"},{"offset":0.7828,"color":"#000"},{"offset":0.7851,"color":"#000"},{"offset":0.7851,"color":"#fff"},
{"offset":0.7924,"color":"#fff"},{"offset":0.7924,"color":"#000"},{"offset":0.7947,"color":"#000"},{"offset":0.7947,"color":"#fff"},
{"offset":0.802,"color":"#fff"},{"offset":0.802,"color":"#000"},{"offset":0.8043,"color":"#000"},{"offset":0.8043,"color":"#fff"},
{"offset":0.8116,"color":"#fff"},{"offset":0.8116,"color":"#000"},{"offset":0.8139,"color":"#000"},{"offset":0.8139,"color":"#fff"},
{"offset":0.8213,"color":"#fff"},{"offset":0.8213,"color":"#000"},{"offset":0.8236,"color":"#000"},{"offset":0.8236,"color":"#fff"},
{"offset":0.8309,"color":"#fff"},{"offset":0.8309,"color":"#000"},{"offset":0.8332,"color":"#000"},{"offset":0.8332,"color":"#fff"},
{"offset":0.8405,"color":"#fff"},{"offset":0.8405,"color":"#000"},{"offset":0.8428,"color":"#000"},{"offset":0.8428,"color":"#fff"},
{"offset":0.8501,"color":"#fff"},{"offset":0.8501,"color":"#000"},{"offset":0.8524,"color":"#000"},{"offset":0.8524,"color":"#fff"},
{"offset":0.8597,"color":"#fff"},{"offset":0.8597,"color":"#000"},{"offset":0.862,"color":"#000"},{"offset":0.862,"color":"#fff"},
{"offset":0.8693,"color":"#fff"},{"offset":0.8693,"color":"#000"},{"offset":0.8716,"color":"#000"},{"offset":0.8716,"color":"#fff"},
{"offset":0.8789,"color":"#fff"},{"offset":0.8789,"color":"#000"},{"offset":0.8813,"color":"#000"},{"offset":0.8813,"color":"#fff"},
{"offset":0.8886,"color":"#fff"},{"offset":0.8886,"color":"#000"},{"offset":0.8909,"color":"#000"},{"offset":0.8909,"color":"#fff"},
{"offset":0.8982,"color":"#fff"},{"offset":0.8982,"color":"#000"},{"offset":0.9005,"color":"#000"},{"offset":0.9005,"color":"#fff"},
{"offset":0.9078,"color":"#fff"},{"offset":0.9078,"color":"#000"},{"offset":0.9101,"color":"#000"},{"offset":0.9101,"color":"#fff"},
{"offset":0.9174,"color":"#fff"},{"offset":0.9174,"color":"#000"},{"offset":0.9197,"color":"#000"},{"offset":0.9197,"color":"#fff"},
{"offset":0.927,"color":"#fff"},{"offset":0.927,"color":"#000"},{"offset":0.9293,"color":"#000"},{"offset":0.9293,"color":"#fff"},
{"offset":0.9366,"color":"#fff"},{"offset":0.9366,"color":"#000"},{"offset":0.9389,"color":"#000"},{"offset":0.9389,"color":"#fff"},
{"offset":0.9463,"color":"#fff"},{"offset":0.9463,"color":"#000"},{"offset":0.9486,"color":"#000"},{"offset":0.9486,"color":"#fff"},
{"offset":0.9559,"color":"#fff"},{"offset":0.9559,"color":"#000"},{"offset":0.9582,"color":"#000"},{"offset":0.9582,"color":"#fff"},
{"offset":0.9655,"color":"#fff"},{"offset":0.9655,"color":"#000"},{"offset":0.9678,"color":"#000"},{"offset":0.9678,"color":"#fff"},
{"offset":0.9751,"color":"#fff"},{"offset":0.9751,"color":"#000"},{"offset":0.9774,"color":"#000"},{"offset":0.9774,"color":"#fff"},
{"offset":0.9847,"color":"#fff"},{"offset":0.9847,"color":"#000"},{"offset":0.987,"color":"#000"},{"offset":0.987,"color":"#fff"},
{"offset":0.9943,"color":"#fff"},{"offset":0.9943,"color":"#000"},{"offset":0.9966,"color":"#000"},{"offset":0.9966,"color":"#fff"},
{"offset":1,"color":"#fff"}]}},
   "encoding":{"x":{"field":"year","type":"quantitative","scale":{"domain":[2001,2010],"nice":false,"zero":false},"axis":null},"y":{"field":"hi","type":"quantitative","scale":{"domain":[0,6500],"nice":false},"axis":null},"y2":{"field":"lo"}}},
  {"data":{"name":"assets"},
   "transform":[{"fold":["Agriculture","Forestry","Other","Private","Receivable"]},{"stack":"value","groupby":["year"],"sort":[{"field":"key","order":"ascending"}],"as":["lo","hi"]}],
   "mark":{"type":"line","color":"black","strokeWidth":2.75},
   "encoding":{"x":{"field":"year","type":"quantitative","scale":{"domain":[2001,2010],"nice":false,"zero":false},"axis":null},"y":{"field":"hi","type":"quantitative","scale":{"domain":[0,6500],"nice":false},"axis":null},"detail":{"field":"key"}}},
{"data":{"name":"assets"},
 "mark":{"type":"bar","color":"black","size":38,"clip":true},
 "encoding":{"x":{"field":"year","type":"quantitative","scale":{"domain":[2001,2010],"nice":false,"zero":false},"axis":null},
  "y":{"field":"debts","type":"quantitative","scale":{"domain":[0,6500],"nice":false},"axis":{"orient":"right","values":[0,100,200,300,400,500,600,700,800,900,1000,1100,1200,1300,1400,1500,1600,1700,1800,1900,2000,2100,2200,2300,2400,2500,2600,2700,2800,2900,3000,3100,3200,3300,3400,3500,3600,3700,3800,3900,4000,4100,4200,4300,4400,4500,4600,4700,4800,4900,5000,5100,5200,5300,5400,5500,5600,5700,5800,5900,6000,6100,6200,6300,6400,6500],"format":"d","labelExpr":"datum.value % 500 === 0 ? datum.label : ''","tickSize":{"condition":{"test":"datum.value % 500 === 0","value":8},"value":5},"labelPadding":11,"title":null}}}},
{"data":{"values":[{"x":2004.373,"x2":2006.199,"y":4554,"y2":3892},{"x":2006.31,"x2":2009.53,"y":5613,"y2":4779},{"x":2005.714,"x2":2008.025,"y":3468,"y2":3005},{"x":2002.344,"x2":2004.672,"y":1942,"y2":1456},{"x":2004.034,"x2":2006.603,"y":600,"y2":199}]},
 "mark":{"type":"rect","fill":"white","stroke":null},
 "encoding":{"x":{"field":"x","type":"quantitative","scale":{"domain":[2001,2010],"nice":false,"zero":false},"axis":null},"x2":{"field":"x2"},"y":{"field":"y","type":"quantitative","scale":{"domain":[0,6500],"nice":false},"axis":null},"y2":{"field":"y2"}}},
{"data":{"values":[{"x":2001.2922,"y":4087,"x2":2001.2922,"y2":3786},{"x":2008.0222,"y":4735,"x2":2008.0222,"y2":4475},{"x":2006.569,"y":3495,"x2":2006.891,"y2":3605},{"x":2003.314,"y":1924,"x2":2003.601,"y2":2450}]},
 "mark":{"type":"rule","color":"black","strokeWidth":2},
 "encoding":{"x":{"field":"x","type":"quantitative","scale":{"domain":[2001,2010],"nice":false,"zero":false},"axis":null},"x2":{"field":"x2"},"y":{"field":"y","type":"quantitative","scale":{"domain":[0,6500],"nice":false},"axis":null},"y2":{"field":"y2"}}},
{"data":{"values":[{"x":2001.2922,"y":3631}]},
 "mark":{"type":"point","shape":"M0,0L-0.4,1L0.4,1Z","filled":true,"color":"black","opacity":1,"size":1250,"angle":180},
 "encoding":{"x":{"field":"x","type":"quantitative","scale":{"domain":[2001,2010],"nice":false,"zero":false},"axis":null},"y":{"field":"y","type":"quantitative","scale":{"domain":[0,6500],"nice":false},"axis":null}}},
{"data":{"values":[{"x":2008.0222,"y":4382}]},
 "mark":{"type":"point","shape":"M0,0L-0.4,1L0.4,1Z","filled":true,"color":"black","opacity":1,"size":400,"angle":180},
 "encoding":{"x":{"field":"x","type":"quantitative","scale":{"domain":[2001,2010],"nice":false,"zero":false},"axis":null},"y":{"field":"y","type":"quantitative","scale":{"domain":[0,6500],"nice":false},"axis":null}}},
{"data":{"values":[{"x":2006.969,"y":3631}]},
 "mark":{"type":"point","shape":"M0,0L-0.4,1L0.4,1Z","filled":true,"color":"black","opacity":1,"size":576,"angle":75},
 "encoding":{"x":{"field":"x","type":"quantitative","scale":{"domain":[2001,2010],"nice":false,"zero":false},"axis":null},"y":{"field":"y","type":"quantitative","scale":{"domain":[0,6500],"nice":false},"axis":null}}},
{"data":{"values":[{"x":2003.66,"y":2559}]},
 "mark":{"type":"point","shape":"M0,0L-0.4,1L0.4,1Z","filled":true,"color":"black","opacity":1,"size":900,"angle":35},
 "encoding":{"x":{"field":"x","type":"quantitative","scale":{"domain":[2001,2010],"nice":false,"zero":false},"axis":null},"y":{"field":"y","type":"quantitative","scale":{"domain":[0,6500],"nice":false},"axis":null}}},
{"data":{"values":[{"x":2001.2006,"y":4492,"t":"Krav"},{"x":2004.4586,"y":4174,"t":"Privat"},{"x":2006.3757,"y":5265,"t":"Tilleggsnæring/Anna næring"},{"x":2005.782,"y":3133,"t":"Skogbruk"},{"x":2002.405,"y":1571,"t":"Jordbruk"},{"x":2004.118,"y":248,"t":"Total gjeld"}]},
 "mark":{"type":"text","font":"Liberation Sans","fontSize":24,"align":"left","baseline":"alphabetic","color":"black"},
 "encoding":{"x":{"field":"x","type":"quantitative","scale":{"domain":[2001,2010],"nice":false,"zero":false},"axis":null},"y":{"field":"y","type":"quantitative","scale":{"domain":[0,6500],"nice":false},"axis":null},"text":{"field":"t"}}},
{"data":{"values":[{"x":2001.845,"y":4492,"t":"Accounts"},{"x":2001.2006,"y":4130,"t":"receivable"},{"x":2005.195,"y":4174,"t":"Private"},{"x":2006.3757,"y":4902,"t":"Other enterprises"},{"x":2006.885,"y":3133,"t":"Forestry"},{"x":2003.484,"y":1571,"t":"Agriculture"},{"x":2005.375,"y":248,"t":"Total debts"}]},
 "mark":{"type":"text","font":"Liberation Sans","fontSize":24,"fontStyle":"italic","align":"left","baseline":"alphabetic","color":"black"},
 "encoding":{"x":{"field":"x","type":"quantitative","scale":{"domain":[2001,2010],"nice":false,"zero":false},"axis":null},"y":{"field":"y","type":"quantitative","scale":{"domain":[0,6500],"nice":false},"axis":null},"text":{"field":"t"}}}
]
}
